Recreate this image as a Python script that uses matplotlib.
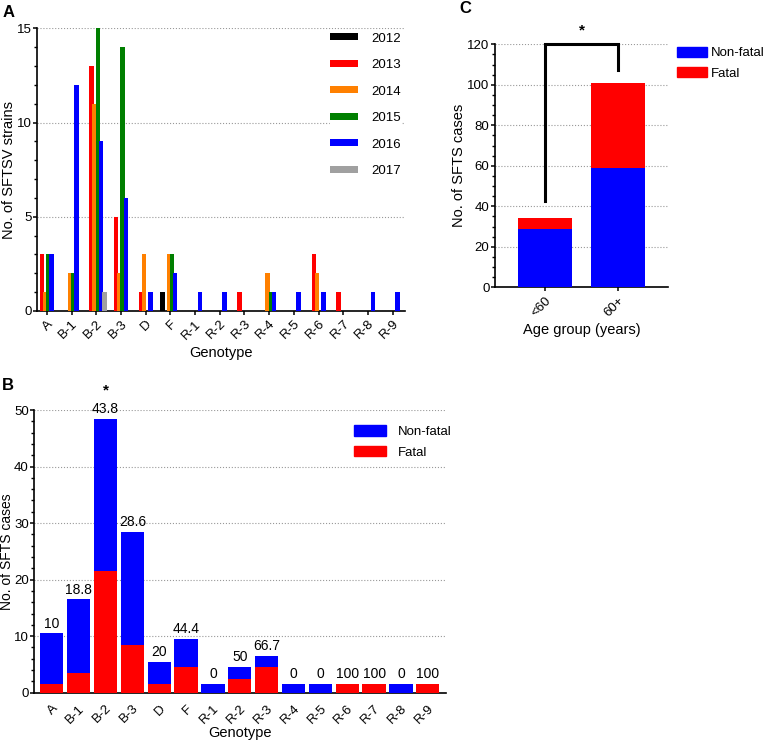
import numpy as np
import matplotlib
matplotlib.use("Agg")
import matplotlib.pyplot as plt
from matplotlib.ticker import MultipleLocator
from matplotlib.patches import Patch

plt.rcParams['font.family'] = ['Liberation Sans', 'DejaVu Sans']
plt.rcParams['font.size'] = 9.5

# ---- datos panel A: cepas por genotipo y año ----
genotipos = ['A', 'B-1', 'B-2', 'B-3', 'D', 'F', 'R-1', 'R-2', 'R-3',
             'R-4', 'R-5', 'R-6', 'R-7', 'R-8', 'R-9']
anios = ['2012', '2013', '2014', '2015', '2016', '2017']
cepas_2012 = [0, 0, 0, 0, 0, 1, 0, 0, 0, 0, 0, 0, 0, 0, 0]
cepas_2013 = [3, 0, 13, 5, 1, 0, 0, 0, 1, 0, 0, 3, 1, 0, 0]
cepas_2014 = [1, 2, 11, 2, 3, 3, 0, 0, 0, 2, 0, 2, 0, 0, 0]
cepas_2015 = [3, 2, 15, 14, 0, 3, 0, 0, 0, 1, 0, 0, 0, 0, 0]
cepas_2016 = [3, 12, 9, 6, 1, 2, 1, 1, 0, 1, 1, 1, 0, 1, 1]
cepas_2017 = [0, 0, 1, 0, 0, 0, 0, 0, 0, 0, 0, 0, 0, 0, 0]
colores_anio = ['#000000', '#ff0000', '#ff8000', '#007f00', '#0000ff', '#a0a0a0']

# ---- datos panel B: casos por genotipo (alturas) ----
total_b = [10.5, 16.5, 48.5, 28.5, 5.5, 9.5, 1.5, 4.5, 6.5, 1.5, 1.5, 1.5, 1.5, 1.5, 1.5]
fatal_b = [1.5, 3.5, 21.5, 8.5, 1.5, 4.5, 0, 2.5, 4.5, 0, 0, 1.5, 1.5, 0, 1.5]
porcentaje_b = ['10', '18.8', '43.8', '28.6', '20', '44.4', '0', '50', '66.7',
                '0', '0', '100', '100', '0', '100']

# ---- datos panel C: casos por grupo de edad ----
edades = ['<60', '60+']
no_fatal_c = [29, 59]
fatal_c = [5, 42]

AZUL = '#0000ff'
ROJO = '#ff0000'
FS_LAB = 10.5

fig = plt.figure(figsize=(7.66, 7.42), dpi=100)


def estilo(ax):
    ax.spines['top'].set_visible(False)
    ax.spines['right'].set_visible(False)
    ax.spines['left'].set_linewidth(1.2)
    ax.spines['bottom'].set_linewidth(1.2)
    ax.yaxis.grid(True, linestyle=':', color='#999999', linewidth=0.8)
    ax.set_axisbelow(True)
    ax.tick_params(axis='both', which='major', length=3, width=1.1, labelsize=9.5, pad=1)
    ax.tick_params(axis='y', which='minor', length=2, width=1.0)


# ---------------- Panel A ----------------
axA = fig.add_axes([0.0483, 0.5809, 0.4804, 0.381])
x = np.arange(len(genotipos))
series = [cepas_2012, cepas_2013, cepas_2014, cepas_2015, cepas_2016, cepas_2017]
d = 0.13
for i, (s, c) in enumerate(zip(series, colores_anio)):
    axA.bar(x + (i - 2.5) * d, s, width=0.18, color=c, label=anios[i], zorder=3 + i)
axA.set_xlim(-0.4, 14.5)
axA.set_ylim(0, 15)
axA.yaxis.set_major_locator(MultipleLocator(5))
axA.yaxis.set_minor_locator(MultipleLocator(1))
axA.set_xticks(x)
axA.set_xticklabels(genotipos, rotation=45, ha='right', rotation_mode='anchor')
estilo(axA)
axA.tick_params(axis='x', pad=2)
axA.set_ylabel('No. of SFTSV strains', fontsize=FS_LAB)
axA.yaxis.set_label_coords(-0.058, 0.5)
axA.set_xlabel('Genotype', fontsize=FS_LAB, labelpad=3)
legA = axA.legend(loc='upper left', bbox_to_anchor=(0.796, 0.985), frameon=True,
                  fontsize=9.5, handlelength=2.1, handleheight=0.45,
                  labelspacing=1.1, borderpad=0, borderaxespad=0, handletextpad=1.05)
legA.get_frame().set_edgecolor('white')
legA.get_frame().set_facecolor('white')
legA.get_frame().set_alpha(1)

# ---------------- Panel B ----------------
axB = fig.add_axes([0.0448, 0.0664, 0.5375, 0.381])
xb = np.arange(len(genotipos))
no_fatal_b = [t - f for t, f in zip(total_b, fatal_b)]
axB.bar(xb, fatal_b, width=0.87, color=ROJO, zorder=3)
axB.bar(xb, no_fatal_b, bottom=fatal_b, width=0.87, color=AZUL, zorder=3)
for xi, t, p in zip(xb, total_b, porcentaje_b):
    axB.text(xi, t + 0.5, p, ha='center', va='bottom', fontsize=10, clip_on=False)
axB.text(2, 53.5, '*', ha='center', va='center', fontsize=11, fontweight='bold')
axB.set_xlim(-0.65, 14.68)
axB.set_ylim(0, 50)
axB.yaxis.set_major_locator(MultipleLocator(10))
axB.yaxis.set_minor_locator(MultipleLocator(2))
axB.set_xticks(xb)
axB.set_xticklabels(genotipos, rotation=45, ha='right', rotation_mode='anchor')
estilo(axB)
axB.tick_params(axis='x', length=0, pad=7)
axB.set_ylabel('No. of SFTS cases', fontsize=10)
axB.yaxis.set_label_coords(-0.049, 0.5)
axB.set_xlabel('Genotype', fontsize=FS_LAB, labelpad=0)
axB.legend(handles=[Patch(color=AZUL, label='Non-fatal'), Patch(color=ROJO, label='Fatal')],
           loc='upper left', bbox_to_anchor=(0.7765, 0.947), frameon=False, fontsize=9.5,
           handlelength=2.4, handleheight=0.85, labelspacing=0.6, handletextpad=0.9,
           borderpad=0, borderaxespad=0)

# ---------------- Panel C ----------------
axC = fig.add_axes([0.6462, 0.6128, 0.2259, 0.3275])
xc = np.arange(len(edades))
axC.bar(xc, no_fatal_c, width=0.74, color=AZUL, zorder=3)
axC.bar(xc, fatal_c, bottom=no_fatal_c, width=0.74, color=ROJO, zorder=3)
axC.plot([0, 0, 1, 1], [42.5, 120, 120, 107.5], color='black', linewidth=2.2,
         clip_on=False, zorder=5, solid_joinstyle='miter')
axC.text(0.5, 127, '*', ha='center', va='center', fontsize=11, fontweight='bold')
axC.set_xlim(-0.68, 1.68)
axC.set_ylim(0, 120)
axC.yaxis.set_major_locator(MultipleLocator(20))
axC.yaxis.set_minor_locator(MultipleLocator(5))
axC.set_xticks(xc)
axC.set_xticklabels(edades, rotation=45, ha='right', rotation_mode='anchor')
estilo(axC)
axC.tick_params(axis='x', pad=2)
axC.set_ylabel('No. of SFTS cases', fontsize=FS_LAB)
axC.yaxis.set_label_coords(-0.165, 0.5)
axC.set_xlabel('Age group (years)', fontsize=FS_LAB, labelpad=3)
axC.legend(handles=[Patch(color=AZUL, label='Non-fatal'), Patch(color=ROJO, label='Fatal')],
           loc='upper left', bbox_to_anchor=(1.05, 0.989), frameon=False, fontsize=9.5,
           handlelength=2.27, handleheight=0.75, labelspacing=0.6, handletextpad=0.3,
           borderpad=0, borderaxespad=0)

# letras de los paneles
fig.text(0.003, 0.983, 'A', fontsize=12, fontweight='bold', va='center')
fig.text(0.003, 0.48, 'B', fontsize=12, fontweight='bold', va='center')
fig.text(0.600, 0.988, 'C', fontsize=12, fontweight='bold', va='center')

fig.savefig('out.png', dpi=100)
